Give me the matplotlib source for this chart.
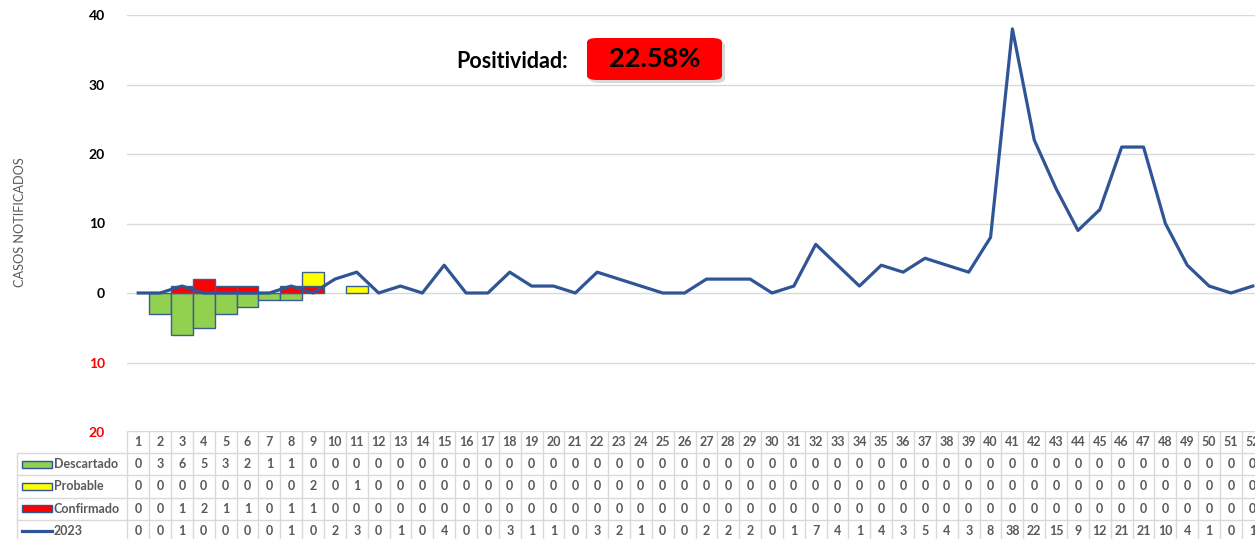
import numpy as np
import matplotlib.pyplot as plt
from matplotlib.patches import FancyBboxPatch, Rectangle
from matplotlib.lines import Line2D

plt.rcParams['font.family'] = ['Lato', 'DejaVu Sans']

# data per epidemiological week
weeks = np.arange(1, 53)
descartado = np.array([0, 3, 6, 5, 3, 2, 1, 1] + [0] * 44)
probable = np.array([0] * 8 + [2, 0, 1] + [0] * 41)
confirmado = np.array([0, 0, 1, 2, 1, 1, 0, 1, 1] + [0] * 43)
casos_2023 = np.array([0, 0, 1, 0, 0, 0, 0, 1, 0, 2, 3, 0, 1,
                       0, 4, 0, 0, 3, 1, 1, 0, 3, 2, 1, 0, 0, 2, 2, 2, 0, 1, 7,
                       4, 1, 4, 3, 5, 4, 3, 8, 38, 22, 15, 9, 12, 21, 21, 10, 4, 1, 0, 1])
positividad = "22.58%"

y_ticks = [-20, -10, 0, 10, 20, 30, 40]

green = "#92D050"
yellow = "#FFFF00"
red = "#FF0000"
blue = "#2F5597"
edge = "#3A5F8F"
grid_c = "#D9D9D9"
txt_gray = "#595959"

W, H = 1255, 539
fig = plt.figure(figsize=(W / 100, H / 100), dpi=100)

# main chart area
x0 = 127.3
step = 21.86
xmax = 52.1
ax = fig.add_axes([x0 / W, 1 - 432 / H, 1 - x0 / W, (432 - 15) / H])
ax.set_xlim(0.5, xmax)
ax.set_ylim(-20, 40)
for s in ax.spines.values():
    s.set_visible(False)
ax.set_xticks([])
ax.set_yticks(y_ticks)
ax.set_yticklabels([str(abs(v)) for v in y_ticks], fontsize=10, fontweight="bold")
for lab, v in zip(ax.get_yticklabels(), y_ticks):
    lab.set_color(red if v < 0 else "black")
ax.tick_params(axis="y", length=0, pad=16)
for v in y_ticks[1:]:
    ax.axhline(v, color=grid_c, lw=1, zorder=0)

m = descartado > 0
ax.bar(weeks[m], -descartado[m], width=1, color=green, edgecolor=edge, lw=1, zorder=2)
m = confirmado > 0
ax.bar(weeks[m], confirmado[m], width=1, color=red, edgecolor=edge, lw=1, zorder=2)
m = probable > 0
ax.bar(weeks[m], probable[m], bottom=confirmado[m], width=1, color=yellow,
       edgecolor=edge, lw=1, zorder=2)
ax.plot(weeks, casos_2023, color=blue, lw=2.3, zorder=3, solid_joinstyle="round")

fig.text(20 / W, 1 - 222 / H, "CASOS NOTIFICADOS", rotation=90, ha="center",
         va="center", fontsize=9.2, color=txt_gray)

# positividad box
fig.text(512 / W, 1 - 62 / H, "Positividad:", ha="center", va="center",
         fontsize=15.5, fontweight="bold")
shadow = FancyBboxPatch((590 / W, 1 - 83 / H), 135 / W, 42 / H,
                        boxstyle="round,pad=0,rounding_size=0.008",
                        transform=fig.transFigure, fc="#BFBFBF", ec="none", alpha=0.6)
box = FancyBboxPatch((587 / W, 1 - 80 / H), 135 / W, 42 / H,
                     boxstyle="round,pad=0,rounding_size=0.008",
                     transform=fig.transFigure, fc=red, ec="none")
fig.patches.extend([shadow, box])
fig.text(655 / W, 1 - 59 / H, positividad, ha="center", va="center",
         fontsize=19.5, fontweight="bold")

# data table under the chart
rh = 22.2
ta = fig.add_axes([0, 0, 1, (539 - 431) / H])
ta.set_xlim(0.5 - x0 / step, xmax)
ta.set_ylim((539 - 431) / rh, 0)
ta.axis("off")
left = 0.5 - (x0 - 17) / step

rows = [("Descartado", descartado), ("Probable", probable),
        ("Confirmado", confirmado), ("2023", casos_2023)]
keys = [green, yellow, red, None]

for w in weeks:
    ta.text(w, 0.5, str(w), ha="center", va="center", fontsize=9,
            fontweight="bold", color=txt_gray)
for i, (name, vals) in enumerate(rows):
    yc = i + 1.5
    for w, v in zip(weeks, vals):
        ta.text(w, yc, str(v), ha="center", va="center", fontsize=9,
                fontweight="bold", color=txt_gray)
    kx = left + 5 / step
    if keys[i] is not None:
        ta.add_patch(Rectangle((kx, yc - 0.16), 30 / step, 0.32, fc=keys[i],
                               ec=blue, lw=1))
    else:
        ta.add_line(Line2D([kx, kx + 30 / step], [yc, yc], color=blue, lw=2.3))
    ta.text(kx + 32 / step, yc, name, ha="left", va="center", fontsize=9,
            fontweight="bold", color=txt_gray)

# cell borders
ta.hlines(0, 0.5, xmax, color=grid_c, lw=1)
ta.hlines(np.arange(1, 6), left, xmax, color=grid_c, lw=1)
ta.vlines(np.arange(0.5, 52.5, 1), 0, 5, color=grid_c, lw=1)
ta.vlines(left, 1, 5, color=grid_c, lw=1)

fig.savefig("out.png", dpi=100)
